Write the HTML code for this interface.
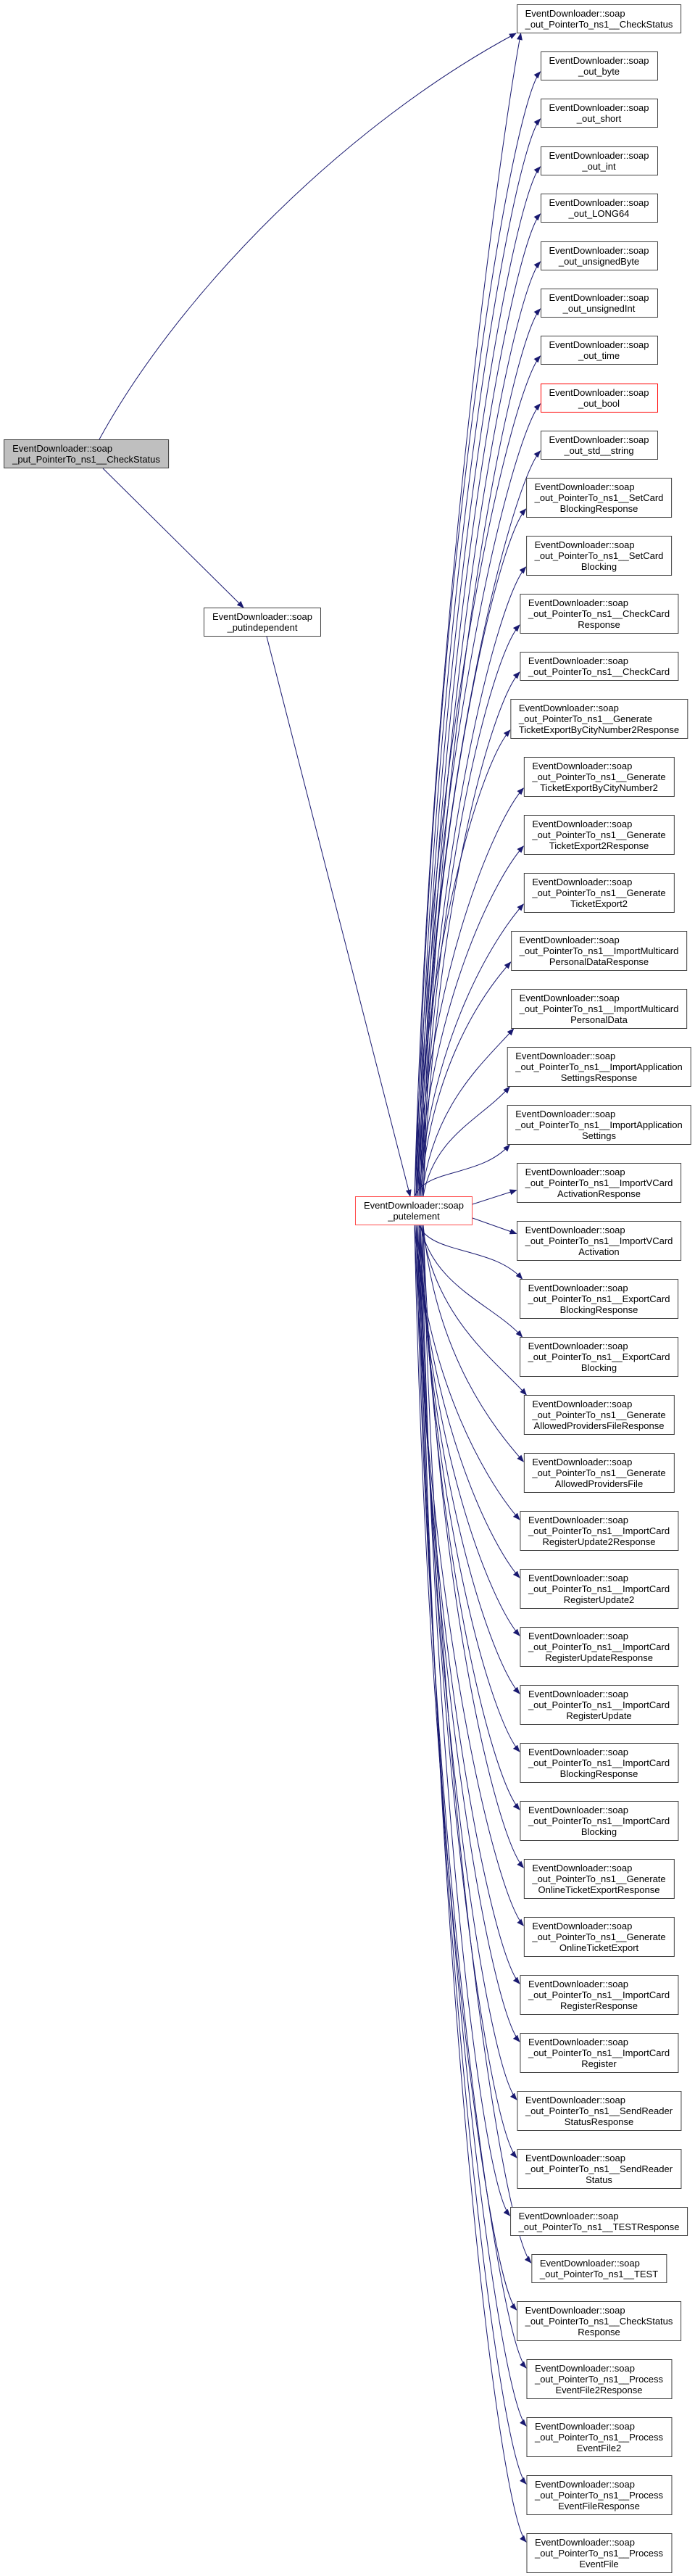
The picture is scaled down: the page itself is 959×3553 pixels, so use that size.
<!DOCTYPE html>
<html><head><meta charset="utf-8">
<style>
html,body{margin:0;padding:0;background:#fff;}
body{width:959px;height:3553px;position:relative;overflow:hidden;font-family:"Liberation Sans",Arial,sans-serif;font-size:13px;color:#000;}
.n{position:absolute;box-sizing:border-box;border:1.3px solid #404040;background:#fff;padding:4px 11px 0 11px;line-height:15px;white-space:nowrap;transform:translateX(-50%);left:826.5px;}
.n div{text-align:left}
.n .c{text-align:center}
.h2{height:40px}
.h3{height:55px}
.red{border-color:#ff0000}
svg{position:absolute;left:0;top:0}
</style></head><body>
<svg id="s" width="959" height="3553" viewBox="0 0 959 3553">
<defs><marker id="a" markerWidth="10" markerHeight="8" refX="9" refY="4" orient="auto" markerUnits="userSpaceOnUse"><path d="M0,0 L10,4 L0,8 z" fill="#191970"/></marker></defs>
<g id="e" fill="none" stroke="#191970" stroke-width="1">
<path d="M137,606 C250,400 480,170 712,46" marker-end="url(#a)"/>
<path d="M142,646 L336,838" marker-end="url(#a)"/>
<path d="M368,878 L566,1650" marker-end="url(#a)"/>
</g>
</svg>
<div class="n h2" style="left:119px;top:606px;background:#bfbfbf;"><div>EventDownloader::soap</div><div>_put_PointerTo_ns1__CheckStatus</div></div>
<div class="n h2" style="left:362px;top:838px;"><div class="c">EventDownloader::soap</div><div class="c">_putindependent</div></div>
<div class="n h2" style="left:571px;top:1650px;border-color:#ff4c4c;border-width:1.5px;"><div class="c">EventDownloader::soap</div><div class="c">_putelement</div></div>
<div id="nodes"></div>
<div class="n h2" style="top:6px"><div>EventDownloader::soap</div><div>_out_PointerTo_ns1__CheckStatus</div></div>
<div class="n h2" style="top:71px"><div class="c">EventDownloader::soap</div><div class="c">_out_byte</div></div>
<div class="n h2" style="top:136px"><div class="c">EventDownloader::soap</div><div class="c">_out_short</div></div>
<div class="n h2" style="top:202px"><div class="c">EventDownloader::soap</div><div class="c">_out_int</div></div>
<div class="n h2" style="top:267px"><div class="c">EventDownloader::soap</div><div class="c">_out_LONG64</div></div>
<div class="n h2" style="top:333px"><div class="c">EventDownloader::soap</div><div class="c">_out_unsignedByte</div></div>
<div class="n h2" style="top:398px"><div class="c">EventDownloader::soap</div><div class="c">_out_unsignedInt</div></div>
<div class="n h2" style="top:463px"><div class="c">EventDownloader::soap</div><div class="c">_out_time</div></div>
<div class="n h2 red" style="top:529px"><div class="c">EventDownloader::soap</div><div class="c">_out_bool</div></div>
<div class="n h2" style="top:594px"><div class="c">EventDownloader::soap</div><div class="c">_out_std__string</div></div>
<div class="n h3" style="top:659px"><div>EventDownloader::soap</div><div>_out_PointerTo_ns1__SetCard</div><div class="c">BlockingResponse</div></div>
<div class="n h3" style="top:739px"><div>EventDownloader::soap</div><div>_out_PointerTo_ns1__SetCard</div><div class="c">Blocking</div></div>
<div class="n h3" style="top:819px"><div>EventDownloader::soap</div><div>_out_PointerTo_ns1__CheckCard</div><div class="c">Response</div></div>
<div class="n h2" style="top:899px"><div>EventDownloader::soap</div><div>_out_PointerTo_ns1__CheckCard</div></div>
<div class="n h3" style="top:964px"><div>EventDownloader::soap</div><div>_out_PointerTo_ns1__Generate</div><div class="c">TicketExportByCityNumber2Response</div></div>
<div class="n h3" style="top:1044px"><div>EventDownloader::soap</div><div>_out_PointerTo_ns1__Generate</div><div class="c">TicketExportByCityNumber2</div></div>
<div class="n h3" style="top:1124px"><div>EventDownloader::soap</div><div>_out_PointerTo_ns1__Generate</div><div class="c">TicketExport2Response</div></div>
<div class="n h3" style="top:1204px"><div>EventDownloader::soap</div><div>_out_PointerTo_ns1__Generate</div><div class="c">TicketExport2</div></div>
<div class="n h3" style="top:1284px"><div>EventDownloader::soap</div><div>_out_PointerTo_ns1__ImportMulticard</div><div class="c">PersonalDataResponse</div></div>
<div class="n h3" style="top:1364px"><div>EventDownloader::soap</div><div>_out_PointerTo_ns1__ImportMulticard</div><div class="c">PersonalData</div></div>
<div class="n h3" style="top:1444px"><div>EventDownloader::soap</div><div>_out_PointerTo_ns1__ImportApplication</div><div class="c">SettingsResponse</div></div>
<div class="n h3" style="top:1524px"><div>EventDownloader::soap</div><div>_out_PointerTo_ns1__ImportApplication</div><div class="c">Settings</div></div>
<div class="n h3" style="top:1604px"><div>EventDownloader::soap</div><div>_out_PointerTo_ns1__ImportVCard</div><div class="c">ActivationResponse</div></div>
<div class="n h3" style="top:1684px"><div>EventDownloader::soap</div><div>_out_PointerTo_ns1__ImportVCard</div><div class="c">Activation</div></div>
<div class="n h3" style="top:1764px"><div>EventDownloader::soap</div><div>_out_PointerTo_ns1__ExportCard</div><div class="c">BlockingResponse</div></div>
<div class="n h3" style="top:1844px"><div>EventDownloader::soap</div><div>_out_PointerTo_ns1__ExportCard</div><div class="c">Blocking</div></div>
<div class="n h3" style="top:1924px"><div>EventDownloader::soap</div><div>_out_PointerTo_ns1__Generate</div><div class="c">AllowedProvidersFileResponse</div></div>
<div class="n h3" style="top:2004px"><div>EventDownloader::soap</div><div>_out_PointerTo_ns1__Generate</div><div class="c">AllowedProvidersFile</div></div>
<div class="n h3" style="top:2084px"><div>EventDownloader::soap</div><div>_out_PointerTo_ns1__ImportCard</div><div class="c">RegisterUpdate2Response</div></div>
<div class="n h3" style="top:2164px"><div>EventDownloader::soap</div><div>_out_PointerTo_ns1__ImportCard</div><div class="c">RegisterUpdate2</div></div>
<div class="n h3" style="top:2244px"><div>EventDownloader::soap</div><div>_out_PointerTo_ns1__ImportCard</div><div class="c">RegisterUpdateResponse</div></div>
<div class="n h3" style="top:2324px"><div>EventDownloader::soap</div><div>_out_PointerTo_ns1__ImportCard</div><div class="c">RegisterUpdate</div></div>
<div class="n h3" style="top:2404px"><div>EventDownloader::soap</div><div>_out_PointerTo_ns1__ImportCard</div><div class="c">BlockingResponse</div></div>
<div class="n h3" style="top:2484px"><div>EventDownloader::soap</div><div>_out_PointerTo_ns1__ImportCard</div><div class="c">Blocking</div></div>
<div class="n h3" style="top:2564px"><div>EventDownloader::soap</div><div>_out_PointerTo_ns1__Generate</div><div class="c">OnlineTicketExportResponse</div></div>
<div class="n h3" style="top:2644px"><div>EventDownloader::soap</div><div>_out_PointerTo_ns1__Generate</div><div class="c">OnlineTicketExport</div></div>
<div class="n h3" style="top:2724px"><div>EventDownloader::soap</div><div>_out_PointerTo_ns1__ImportCard</div><div class="c">RegisterResponse</div></div>
<div class="n h3" style="top:2804px"><div>EventDownloader::soap</div><div>_out_PointerTo_ns1__ImportCard</div><div class="c">Register</div></div>
<div class="n h3" style="top:2884px"><div>EventDownloader::soap</div><div>_out_PointerTo_ns1__SendReader</div><div class="c">StatusResponse</div></div>
<div class="n h3" style="top:2964px"><div>EventDownloader::soap</div><div>_out_PointerTo_ns1__SendReader</div><div class="c">Status</div></div>
<div class="n h2" style="top:3044px"><div>EventDownloader::soap</div><div>_out_PointerTo_ns1__TESTResponse</div></div>
<div class="n h2" style="top:3109px"><div>EventDownloader::soap</div><div>_out_PointerTo_ns1__TEST</div></div>
<div class="n h3" style="top:3174px"><div>EventDownloader::soap</div><div>_out_PointerTo_ns1__CheckStatus</div><div class="c">Response</div></div>
<div class="n h3" style="top:3254px"><div>EventDownloader::soap</div><div>_out_PointerTo_ns1__Process</div><div class="c">EventFile2Response</div></div>
<div class="n h3" style="top:3334px"><div>EventDownloader::soap</div><div>_out_PointerTo_ns1__Process</div><div class="c">EventFile2</div></div>
<div class="n h3" style="top:3414px"><div>EventDownloader::soap</div><div>_out_PointerTo_ns1__Process</div><div class="c">EventFileResponse</div></div>
<div class="n h3" style="top:3494px"><div>EventDownloader::soap</div><div>_out_PointerTo_ns1__Process</div><div class="c">EventFile</div></div>
<script>
(function(){
var g=document.getElementById('e');
var ns=Array.prototype.slice.call(document.querySelectorAll('.n'));
ns=ns.slice(3);
function add(d){var p=document.createElementNS('http://www.w3.org/2000/svg','path');p.setAttribute('d',d);p.setAttribute('marker-end','url(#a)');g.appendChild(p);}
ns.forEach(function(n,i){
 var r=n.getBoundingClientRect();
 var lx=r.left, top=r.top, h=r.height;
 var sx=572+(i%7)*2;
 if(i===0){add('M'+sx+',1650 C'+(sx+20)+',900 690,200 '+(lx+6)+','+(top+h));return;}
 var cy=top+h/2;
 if(Math.abs(cy-1670)<60){add('M652,'+(cy<1670?1661:1680)+' L'+lx+','+(cy<1670?cy+10:cy-10));return;}
 if(cy<1670){
  var tx=lx+4, ty=top+h;
  if(1650-ty>300){tx=lx;ty=top+h-12;}
  add('M'+sx+',1650 C'+(sx+(tx-sx)*0.12)+','+(1650-(1650-ty)*0.55)+' '+(tx-40)+','+(ty+45)+' '+tx+','+ty);
 } else {
  var tx=lx+4, ty=top;
  if(ty-1690>300){tx=lx;ty=top+12;}
  add('M'+sx+',1690 C'+(sx+(tx-sx)*0.12)+','+(1690+(ty-1690)*0.55)+' '+(tx-40)+','+(ty-45)+' '+tx+','+ty);
 }
});
})();
</script>
</body></html>
